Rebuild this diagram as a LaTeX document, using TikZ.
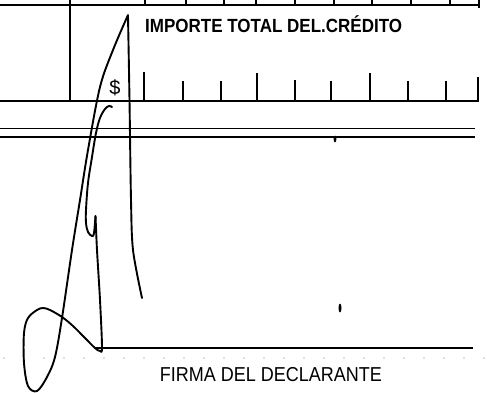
\documentclass[tikz,border=0pt]{standalone}
\usepackage{fontspec}
\setmainfont{Liberation Sans}
\begin{document}
\begin{tikzpicture}[x=1pt,y=-1pt,
  formline/.style={line width=1.6pt},
  tickline/.style={line width=1.5pt},
  thinline/.style={line width=1.3pt},
  sigline/.style={line width=1.9pt, line join=round, line cap=round},
  speck/.style={fill=black},
  labeltext/.style={inner sep=0pt, text=black}]
\useasboundingbox (0,0) rectangle (487,393);
\fill[white] (0,0) rectangle (487,393);
% top row of boxes
\draw[formline] (0,5) -- (479,5);
\foreach \x in {145,186,224,256,295,334,372,411,450} \draw[tickline] (\x,0) -- (\x,5);
\draw[formline] (479,0) -- (479,8);
\draw[formline] (70,0) -- (70,101);
\draw[formline] (0,101) -- (479,101);
\foreach \x/\t in {144/72,183/81,221/81,257/73,295/80,331/81,370/73,408/81,446/81,478/77}
  \draw[tickline] (\x,\t) -- (\x,101);
% double rule
\draw[thinline] (0,128.5) -- (475,128.5);
\draw[thinline] (0,137) -- (475,137);
% signature rule
\draw[formline] (95,348) -- (473,348);
\foreach \x in {4,24,...,484} \fill[black!55] (\x,358) circle (0.6);
% texts
\node[labeltext, anchor=base west, font=\bfseries\fontsize{17}{17}\selectfont] (importe) at (145,33) {\scalebox{1}[1.12]{IMPORTE TOTAL DEL.CRÉDITO}};
\node[labeltext, anchor=base, font=\fontsize{20}{20}\selectfont] (dollar) at (115,95) {\$};
\node[labeltext, anchor=base, font=\fontsize{18}{18}\selectfont] (firma) at (271,381) {\scalebox{1}[1.12]{FIRMA DEL DECLARANTE}};
% specks
\fill[speck] (335,139) ellipse (1.4 and 3.5);
\fill[speck] (340,308) ellipse (1.5 and 4.5);
% signature
\draw[sigline] plot[smooth, tension=0.5] coordinates {(142,298) (133,250) (131,200) (129.5,100) (128,16)};
\draw[sigline] plot[smooth, tension=0.55] coordinates {(128,15) (113,50) (100,87) (88,150) (80,200) (72,250) (62,318) (55,357) (47,377) (37,391) (28,386) (24,363) (24,333) (28,318) (37,310) (43,308) (50,310) (62,317) (73,326) (85,338) (95,348) (100,351) (102,347) (100,300) (97,250) (95.5,216)};
\draw[sigline] plot[smooth, tension=0.6] coordinates {(112,107) (109,106) (105,109) (100,118) (96,133) (92,157) (88,183) (86,210) (86,223) (88,232) (92,236) (94,233) (95.5,216)};
\end{tikzpicture}
\end{document}
